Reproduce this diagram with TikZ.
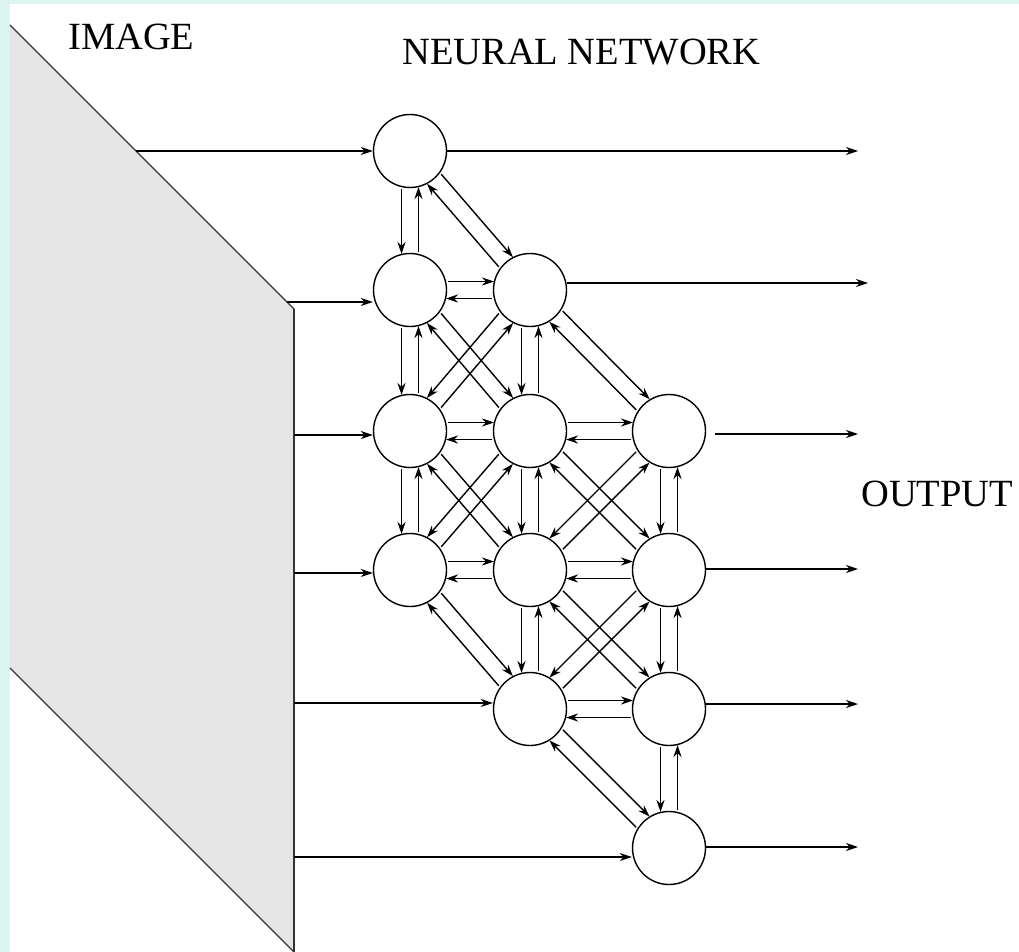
\documentclass[tikz,border=0pt]{standalone}
\usepackage{fontspec}
\setmainfont{Liberation Serif}
\usetikzlibrary{calc,arrows.meta}
\definecolor{bgcyan}{RGB}{221,245,241}
\definecolor{imggray}{RGB}{229,229,229}
\newcommand\pairoff{8.5pt}
% arrow X->Y offset to the left / right of its own direction
\newcommand\arrL[2]{\draw[conn] ($(#1)!\pairoff!90:(#2)$) -- ($(#2)!\pairoff!-90:(#1)$);}
\newcommand\arrR[2]{\draw[conn] ($(#1)!\pairoff!-90:(#2)$) -- ($(#2)!\pairoff!90:(#1)$);}
\newcommand\dpairL[2]{\arrL{#1}{#2}\arrL{#2}{#1}}
\newcommand\dpairR[2]{\arrR{#1}{#2}\arrR{#2}{#1}}
\begin{document}
\begin{tikzpicture}[x=1pt,y=-1pt,
  neuron/.style={circle,draw,line width=1.4pt,minimum size=73pt,inner sep=0pt},
  conn/.style={line width=1.4pt,-{Stealth[length=12pt,width=8pt]},shorten <=38pt,shorten >=36pt},
  io/.style={line width=1.4pt,-{Stealth[length=12pt,width=8pt]}},
  lbl/.style={font=\fontsize{38.5}{46}\selectfont,inner sep=0pt,anchor=base west}]
\useasboundingbox (0,0) rectangle (1019,952);
\fill[bgcyan] (0,0) rectangle (1019,952);
\fill[white] (10,4) rectangle (1019,952);
% image plane
\filldraw[fill=imggray,draw=black!80,line width=1.4pt] (10,25) -- (294,309) -- (294,952) -- (10,668);
\draw[black!80,line width=2.4pt] (294,309) -- (294,952);
% labels
\node[lbl] (limg) at (68,50) {IMAGE};
\node[lbl] (lnn) at (402,65) {NEURAL NETWORK};
\node[lbl] (lout) at (861,506) {OUTPUT};
% neurons
\node[neuron] (n11) at (410,151) {};
\node[neuron] (n12) at (410,290) {};
\node[neuron] (n13) at (410,431) {};
\node[neuron] (n14) at (410,570) {};
\node[neuron] (n22) at (530,290) {};
\node[neuron] (n23) at (530,431) {};
\node[neuron] (n24) at (530,570) {};
\node[neuron] (n25) at (530,709) {};
\node[neuron] (n33) at (669,431) {};
\node[neuron] (n34) at (669,570) {};
\node[neuron] (n35) at (669,709) {};
\node[neuron] (n36) at (669,848) {};
% inputs
\coordinate (in1) at (136,151);
\coordinate (in2) at (287,302);
\coordinate (in3) at (294,435);
\coordinate (in4) at (294,573);
\coordinate (in5) at (294,703);
\coordinate (in6) at (294,857);
\draw[io] (in1) -- (n11);
\draw[io] (in2) -- (in2 -| n12.west);
\draw[io] (in3) -- (in3 -| n13.west);
\draw[io] (in4) -- (in4 -| n14.west);
\draw[io] (in5) -- (in5 -| n25.west);
\draw[io] (in6) -- (in6 -| n36.west);
% outputs
\coordinate (o1) at (858,151);
\coordinate (o2) at (868,283);
\coordinate (o3) at (858,434);
\coordinate (o4) at (858,569);
\coordinate (o5) at (858,704);
\coordinate (o6) at (858,847);
\draw[io] (n11) -- (o1);
\draw[io] (n22.east |- o2) -- (o2);
\draw[io,shorten <=9pt] (n33.east |- o3) -- (o3);
\draw[io] (n34.east |- o4) -- (o4);
\draw[io] (n35.east |- o5) -- (o5);
\draw[io] (n36.east |- o6) -- (o6);
% horizontal pairs
\dpairL{n12}{n22}\dpairL{n13}{n23}\dpairL{n14}{n24}
\dpairL{n23}{n33}\dpairL{n24}{n34}\dpairL{n25}{n35}
% vertical pairs
\dpairR{n11}{n12}\dpairR{n12}{n13}\dpairR{n13}{n14}
\dpairR{n22}{n23}\dpairR{n23}{n24}\dpairR{n24}{n25}
\dpairR{n33}{n34}\dpairR{n34}{n35}\dpairR{n35}{n36}
% diagonal down-right pairs
\dpairL{n11}{n22}\dpairL{n12}{n23}\dpairL{n13}{n24}\dpairL{n14}{n25}
\dpairL{n22}{n33}\dpairL{n23}{n34}\dpairL{n24}{n35}\dpairL{n25}{n36}
% diagonal up-right pairs
\dpairR{n13}{n22}\dpairR{n14}{n23}
\dpairR{n24}{n33}\dpairR{n25}{n34}
\end{tikzpicture}
\end{document}
